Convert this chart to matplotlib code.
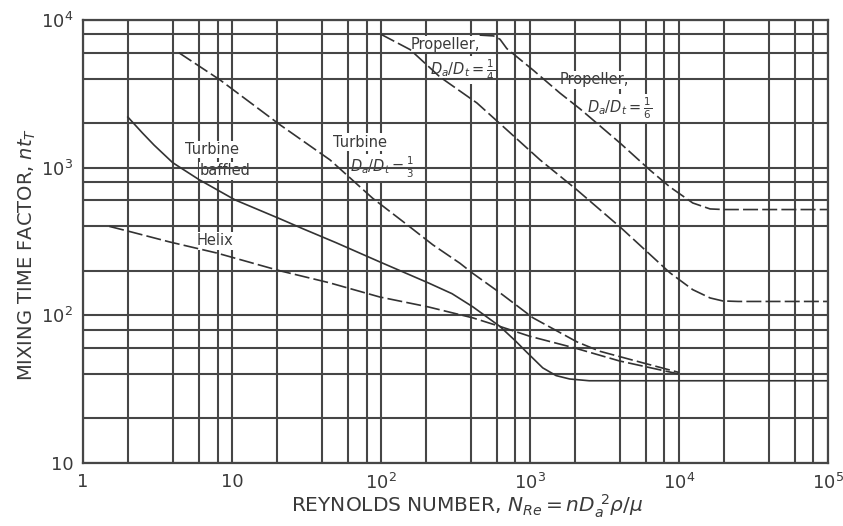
import numpy as np
import matplotlib
matplotlib.use('Agg')
import matplotlib.pyplot as plt

plt.rcParams['font.family'] = ['DejaVu Sans']
plt.rcParams['mathtext.fontset'] = 'dejavusans'

# mixing time factor n*t_T vs Reynolds number
turb_baffled_re = [2, 2.5, 3, 4, 6, 10.5, 21, 30, 50, 98, 207, 300, 414, 629, 800, 955,
                   1220, 1500, 1850, 2500, 1e5]
turb_baffled_nt = [2200, 1720, 1420, 1080, 830, 604, 450, 385, 310, 230, 166, 140, 114, 84,
                   67, 56, 44, 39, 37, 36, 36]

helix_re = [1.5, 2.1, 3.8, 7.9, 21, 45, 98, 207, 414, 629, 1000, 2000, 4000, 1e4]
helix_nt = [400, 367, 314, 264, 200, 166, 133, 114, 96, 84, 72, 60, 49, 40]

turb13_re = [4.4, 8.3, 21, 45.5, 88, 150, 223, 339, 414, 629, 1050, 2070, 2950, 5730, 1e4]
turb13_nt = [6000, 3930, 1950, 1128, 620, 410, 300, 225, 192, 142, 96, 66, 57, 47.6, 41]

prop14_re = [100, 157, 249, 441, 701, 1170, 2070, 4100, 8700, 12400, 16200, 19700, 25000, 1e5]
prop14_nt = [8000, 6300, 4110, 2740, 1800, 1128, 706, 390, 194, 149, 131, 125, 124, 124]

prop16_re = [460, 570, 630, 700, 1050, 1590, 2170, 4020, 6380, 8700, 12400, 16200, 20000, 1e5]
prop16_nt = [7900, 7800, 7400, 6400, 4580, 3200, 2500, 1470, 964, 740, 576, 525, 520, 520]

# grid at 1, 2, 4, 6, 8 per decade
grid_mult = [1, 2, 4, 6, 8]
x_grid = [m * 10.0**k for k in range(0, 5) for m in grid_mult] + [1e5]
y_grid = [m * 10.0**k for k in range(1, 4) for m in grid_mult] + [1e4]

x_ticks = [1, 10, 1e2, 1e3, 1e4, 1e5]
x_ticklabels = ['1', '10', '$10^2$', '$10^3$', '$10^4$', '$10^5$']
y_ticks = [10, 1e2, 1e3, 1e4]
y_ticklabels = ['10', '$10^2$', '$10^3$', '$10^4$']

ink = '#333333'
gridc = '#464646'
txt = '#3a3a3a'

fig = plt.figure(figsize=(8.43, 5.26), dpi=100)
ax = fig.add_axes([0.0985, 0.12, 0.8835, 0.842])
ax.set_xscale('log')
ax.set_yscale('log')
ax.set_xlim(1, 1e5)
ax.set_ylim(10, 1e4)

# vertical grid under the labels, horizontal grid over them
for xv in x_grid:
    ax.axvline(xv, color=gridc, lw=1.5, zorder=1)
for yv in y_grid:
    ax.axhline(yv, color=gridc, lw=1.5, zorder=3)

ax.plot(turb_baffled_re, turb_baffled_nt, color=ink, lw=1.2, zorder=4)
dash = (0, (9, 2.5))
ax.plot(helix_re, helix_nt, color=ink, lw=1.2, ls=dash, zorder=4)
ax.plot(turb13_re, turb13_nt, color=ink, lw=1.2, ls=dash, zorder=4)
ax.plot(prop14_re, prop14_nt, color=ink, lw=1.2, ls=dash, zorder=4)
ax.plot(prop16_re, prop16_nt, color=ink, lw=1.2, ls=dash, zorder=4)

lab = dict(fontsize=10.5, color=txt, ha='left', va='center', zorder=2,
           bbox=dict(facecolor='white', edgecolor='none', pad=0.8))
ax.text(4.8, 1320, 'Turbine', **lab)
ax.text(6.1, 950, 'baffled', **lab)
ax.text(5.8, 319, 'Helix', **lab)
ax.text(47.6, 1490, 'Turbine', **lab)
ax.text(62, 1000, r'$D_a/D_t=\frac{1}{3}$', **lab)
ax.text(157, 6770, 'Propeller,', **lab)
ax.text(213, 4580, r'$D_a/D_t=\frac{1}{4}$', **lab)
ax.text(1590, 3930, 'Propeller,', **lab)
ax.text(2410, 2540, r'$D_a/D_t=\frac{1}{6}$', **lab)

ax.set_xticks(x_ticks)
ax.set_xticklabels(x_ticklabels)
ax.set_yticks(y_ticks)
ax.set_yticklabels(y_ticklabels)
ax.minorticks_off()
ax.tick_params(length=0, labelsize=13, colors=txt, pad=7)

for s in ax.spines.values():
    s.set_linewidth(1.6)
    s.set_color(gridc)
    s.set_zorder(5)

ax.set_xlabel(r'REYNOLDS NUMBER, $N_{Re} = nD_a^{\ 2}\rho/\mu$', fontsize=14.5,
              color=txt)
ax.xaxis.set_label_coords(0.515, -0.068)
ax.set_ylabel(r'MIXING TIME FACTOR, $nt_T$', fontsize=14, color=txt)
ax.yaxis.set_label_coords(-0.06, 0.47)

fig.savefig('out.png', dpi=100)
